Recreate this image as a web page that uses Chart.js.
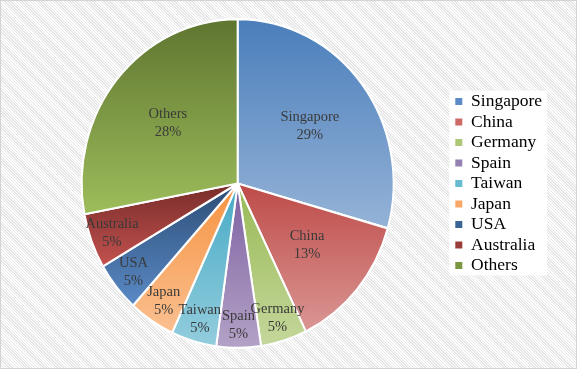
<!DOCTYPE html>
<html>
<head>
<meta charset="utf-8">
<script src="https://cdn.jsdelivr.net/npm/chart.js@4.4.1/dist/chart.umd.min.js"></script>
<style>
  html, body { margin: 0; padding: 0; }
  body {
    width: 577px; height: 369px; overflow: hidden;
    background: repeating-linear-gradient(45deg, #ffffff 0px, #ffffff 1px, #e6e6e6 1px, #e6e6e6 2px);
  }
  #wrap { position: relative; width: 577px; height: 369px; }
</style>
</head>
<body>
<div id="wrap"><canvas id="pie"></canvas></div>
<script>
// data (share of total, in %)
const countries = ['Singapore', 'China', 'Germany', 'Spain', 'Taiwan', 'Japan', 'USA', 'Australia', 'Others'];
const shares = [29.4, 13.4, 4.8, 4.6, 4.7, 4.8, 4.9, 5.4, 28.0];

// excel style gradient, dark at the top of each slice, light at the bottom
const topColors = ['#4A7EBB', '#BE4B48', '#98B954', '#7D60A0', '#46AAC5', '#F69240', '#2C4D75', '#772C2A', '#5F7530'];
const bottomColors = ['#95B3D7', '#DA9694', '#C4D79B', '#B3A2C7', '#93CDDD', '#FAC090', '#5A8AC6', '#C3524F', '#9DBD5B'];
const keyColors = ['#5B8AC6', '#CB6A67', '#ADC775', '#9580B3', '#67BBD1', '#F8A866', '#3A6396', '#9A3C39', '#7A9640'];

const PIE_RADIUS = 156;
const STRETCH = 1.054;   // the original picture is a bit taller than wide
const serif = "'Liberation Serif', 'Times New Roman', serif";
const total = shares.reduce((a, b) => a + b, 0);

function sliceFill(ctx) {
  const i = ctx.dataIndex;
  const chart = ctx.chart;
  const area = chart.chartArea;
  if (!area || i === undefined) return topColors[i] || topColors[0];
  const cy = (area.top + area.bottom) / 2;
  const before = shares.slice(0, i).reduce((a, b) => a + b, 0);
  const start = -Math.PI / 2 + before / total * Math.PI * 2;
  const end = start + shares[i] / total * Math.PI * 2;
  const ys = [cy, cy + PIE_RADIUS * Math.sin(start), cy + PIE_RADIUS * Math.sin(end)];
  [-Math.PI / 2, Math.PI / 2, Math.PI * 1.5].forEach(k => {
    if (k >= start && k <= end) ys.push(cy + PIE_RADIUS * Math.sin(k));
  });
  const g = chart.ctx.createLinearGradient(0, Math.min(...ys), 0, Math.max(...ys));
  g.addColorStop(0, topColors[i]);
  g.addColorStop(1, bottomColors[i]);
  return g;
}

const stretchPlugin = {
  id: 'stretch',
  beforeDatasetsDraw(chart) {
    const a = chart.chartArea;
    const cy = (a.top + a.bottom) / 2;
    const c = chart.ctx;
    c.save();
    c.translate(0, cy);
    c.scale(1, STRETCH);
    c.translate(0, -cy);
  },
  afterDatasetsDraw(chart) {
    chart.ctx.restore();
  }
};

const framePlugin = {
  id: 'frame',
  beforeDraw(chart) {
    const c = chart.ctx;
    const boxes = chart.legend.legendHitBoxes || [];
    c.save();
    if (boxes.length) {
      const left = Math.min(...boxes.map(b => b.left)) - 6;
      const top = Math.min(...boxes.map(b => b.top)) - 2;
      const right = Math.max(...boxes.map(b => b.left + b.width)) + 5;
      const bottom = Math.max(...boxes.map(b => b.top + b.height)) + 1;
      c.fillStyle = '#ffffff';
      c.fillRect(left, top, right - left, bottom - top);
    }
    c.strokeStyle = '#d4d4d4';
    c.lineWidth = 1;
    c.strokeRect(0.5, 0.5, chart.width - 1, chart.height - 1);
    c.restore();
  }
};

const sliceLabels = {
  id: 'sliceLabels',
  afterDraw(chart) {
    const c = chart.ctx;
    const meta = chart.getDatasetMeta(0);
    c.save();
    c.font = '14.5px ' + serif;
    c.fillStyle = '#3a3a3a';
    c.textAlign = 'center';
    c.textBaseline = 'middle';
    meta.data.forEach((el, i) => {
      const mid = (el.startAngle + el.endAngle) / 2;
      const frac = shares[i] / total < 0.1 ? 0.86 : 0.58;
      const x = el.x + Math.cos(mid) * el.outerRadius * frac;
      const y = el.y + Math.sin(mid) * el.outerRadius * frac * STRETCH;
      c.fillText(countries[i], x, y - 9);
      c.fillText(Math.round(shares[i] / total * 100) + '%', x, y + 9);
    });
    c.restore();
  }
};

new Chart(document.getElementById('pie'), {
  type: 'pie',
  data: {
    labels: countries,
    datasets: [{
      data: shares,
      backgroundColor: sliceFill,
      borderColor: '#ffffff',
      borderWidth: 2,
      radius: PIE_RADIUS
    }]
  },
  options: {
    responsive: true,
    maintainAspectRatio: false,
    animation: false,
    layout: { padding: { left: 23, right: 25, top: 0, bottom: 2 } },
    plugins: {
      tooltip: { enabled: false },
      legend: {
        position: 'right',
        align: 'center',
        labels: {
          boxWidth: 7,
          boxHeight: 7,
          padding: 3,
          color: '#404040',
          font: { family: serif, size: 17.5 },
          generateLabels: () => countries.map((name, i) => ({
            text: name,
            fillStyle: keyColors[i],
            strokeStyle: keyColors[i],
            lineWidth: 0,
            hidden: false,
            index: i
          }))
        }
      }
    }
  },
  plugins: [framePlugin, stretchPlugin, sliceLabels]
});
</script>
</body>
</html>
